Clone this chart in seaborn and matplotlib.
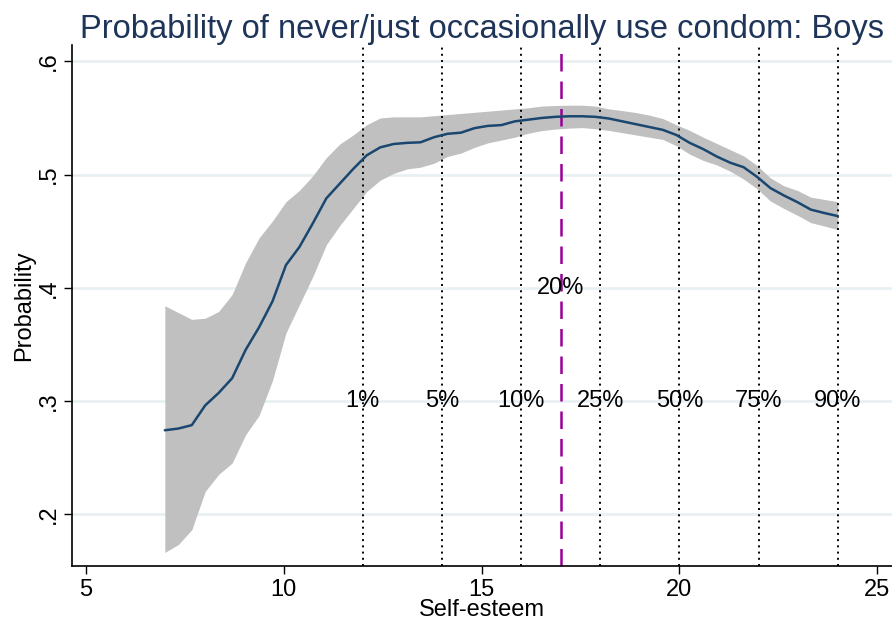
import matplotlib
matplotlib.use("Agg")
import matplotlib.pyplot as plt
import pandas as pd
import seaborn as sns

# self-esteem grid and predicted probability with confidence band
self_esteem = [
    7.00, 7.34, 7.68, 8.02, 8.36, 8.70, 9.04, 9.38, 9.72, 10.06,
    10.40, 10.74, 11.08, 11.42, 11.76, 12.10, 12.44, 12.78, 13.12, 13.46,
    13.80, 14.14, 14.48, 14.82, 15.16, 15.50, 15.84, 16.18, 16.52, 16.86,
    17.20, 17.54, 17.88, 18.22, 18.56, 18.90, 19.24, 19.58, 19.92, 20.26,
    20.60, 20.94, 21.28, 21.62, 21.96, 22.30, 22.64, 22.98, 23.32, 23.66,
    24.00,
]
prob = [
    .274, .2755, .2785, .296, .307, .320, .345, .365, .388, .420,
    .436, .457, .479, .492, .505, .517, .524, .527, .528, .5285,
    .533, .536, .537, .541, .543, .5437, .547, .5485, .550, .551,
    .5515, .5515, .551, .5495, .547, .5445, .542, .5395, .535, .528,
    .5225, .516, .5105, .5065, .498, .488, .4815, .4756, .469, .466,
    .4633,
]
upper = [
    .384, .378, .372, .373, .379, .394, .422, .444, .459, .476,
    .486, .499, .515, .527, .535, .544, .550, .551, .551, .551,
    .552, .553, .554, .555, .556, .557, .558, .559, .5605, .561,
    .5613, .5613, .5605, .558, .5565, .5548, .5525, .5495, .544, .539,
    .533, .5275, .522, .5165, .508, .497, .490, .486, .480, .478,
    .476,
]
lower = [
    .166, .173, .186, .220, .235, .245, .270, .287, .318, .360,
    .385, .410, .438, .455, .470, .485, .495, .501, .505, .5065,
    .510, .516, .519, .524, .528, .5305, .533, .5365, .5388, .5402,
    .541, .5415, .5405, .539, .537, .535, .533, .531, .5255, .518,
    .5125, .5085, .503, .496, .4875, .4765, .470, .464, .4575, .4545,
    .4514,
]

# percentile markers of the self-esteem distribution
pct_x = [12, 14, 16, 18, 20, 22, 24]
pct_labels = ["1%", "5%", "10%", "25%", "50%", "75%", "90%"]
cut_x = 17
cut_label = "20%"

x_ticks = [5, 10, 15, 20, 25]
y_ticks = [.2, .3, .4, .5, .6]
y_ticklabels = [".2", ".3", ".4", ".5", ".6"]

df = pd.DataFrame({"x": self_esteem, "p": prob, "lo": lower, "hi": upper})

sns.set_theme(style="white")
plt.rcParams["font.family"] = ["Liberation Sans", "DejaVu Sans"]
plt.rcParams["text.color"] = "black"
plt.rcParams["axes.labelcolor"] = "black"
plt.rcParams["xtick.color"] = "black"
plt.rcParams["ytick.color"] = "black"

fig = plt.figure(figsize=(8.92, 6.32), dpi=100)
ax = fig.add_axes([0.0807, 0.1044, 0.9193, 0.8244])

for y in y_ticks:
    ax.axhline(y, color="#e6eff1", lw=1.8, zorder=0)

ax.fill_between(df["x"], df["lo"], df["hi"], color="#c0c0c0", lw=0, zorder=1)
sns.lineplot(data=df, x="x", y="p", ax=ax, color="#1a476f", lw=1.8, zorder=3)

for x, lab in zip(pct_x, pct_labels):
    ax.axvline(x, color="black", lw=1.4, ls=(0, (1, 2.2)), zorder=2)
    ax.text(x, .3, lab, ha="center", va="center", fontsize=17, zorder=4)

ax.axvline(cut_x, color="#990099", lw=1.8, ls=(0, (7, 4)), zorder=2)
ax.text(cut_x, .4, cut_label, ha="center", va="center", fontsize=17, zorder=4)

ax.set_xlim(4.654, 25.37)
ax.set_ylim(.154, .6145)
ax.set_xticks(x_ticks)
ax.set_yticks(y_ticks)
ax.set_yticklabels(y_ticklabels, rotation=90, va="center")
ax.tick_params(axis="both", direction="out", length=6, width=1, color="black",
               labelsize=17, pad=3, bottom=True, left=True)

for side in ["top", "right"]:
    ax.spines[side].set_visible(False)
for side in ["left", "bottom"]:
    ax.spines[side].set_color("black")
    ax.spines[side].set_linewidth(1.2)

ax.set_xlabel("Self-esteem", fontsize=17, labelpad=-1)
ax.set_ylabel("Probability", fontsize=17, labelpad=2)
ax.set_title("Probability of never/just occasionally use condom: Boys",
             fontsize=23.5, color="#1e3559", pad=5)

fig.savefig("out.png", dpi=100)
